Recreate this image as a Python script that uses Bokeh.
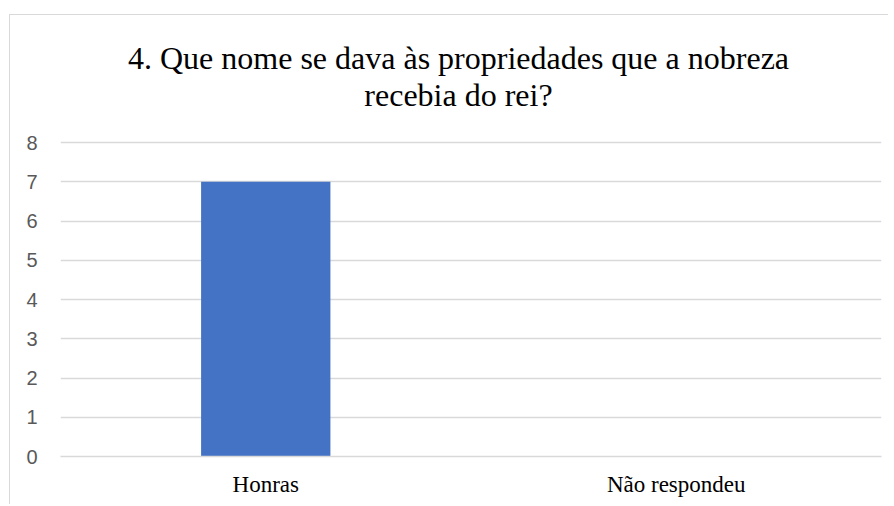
from bokeh.plotting import figure
from bokeh.models import Range1d, Label, ColumnDataSource
from bokeh.embed import file_html
from bokeh.resources import INLINE

categories = ["Honras", "Não respondeu"]
values = [7, 0]
title_lines = ["4. Que nome se dava às propriedades que a nobreza", "recebia do rei?"]
y_ticks = [0, 1, 2, 3, 4, 5, 6, 7, 8]

# plot frame spans the title area too; grid/ticks only 0..8
W, H = 879, 490
frame_h = 441          # px from canvas top to the zero line
y_max = 8 * frame_h / 314.0

p = figure(x_range=categories, y_range=Range1d(0, y_max), width=W, height=H,
           output_backend="svg", toolbar_location=None,
           min_border_left=50, min_border_right=8, min_border_top=0, min_border_bottom=49)
p.margin = (14, 0, 0, 9)
p.styles = {"border-top": "1px solid #d9d9d9", "border-left": "1px solid #d9d9d9"}

src = ColumnDataSource(dict(x=categories, top=values))
p.vbar(x="x", top="top", width=0.315, source=src, fill_color="#4472C4", line_color=None)

p.outline_line_color = None
p.background_fill_color = "white"
p.border_fill_color = "white"
p.xgrid.grid_line_color = None
p.ygrid.grid_line_color = "#d9d9d9"
p.ygrid.grid_line_width = 1.3
p.ygrid.ticker = y_ticks
p.yaxis.ticker = y_ticks
p.yaxis.axis_line_color = None
p.yaxis.major_tick_line_color = None
p.yaxis.minor_tick_line_color = None
p.yaxis.major_label_text_font = "Liberation Sans"
p.yaxis.major_label_text_font_size = "20px"
p.yaxis.major_label_text_color = "#595959"
p.yaxis.major_label_standoff = 17
p.xaxis.axis_line_color = "#d9d9d9"
p.xaxis.axis_line_width = 1.3
p.xaxis.major_tick_line_color = None
p.xaxis.major_label_text_font = "Liberation Serif"
p.xaxis.major_label_text_font_size = "23px"
p.xaxis.major_label_text_color = "#000000"
p.xaxis.major_label_standoff = 9

baselines = [399, 362]   # screen px above the zero line
for t, yb in zip(title_lines, baselines):
    lab = Label(x=398, y=yb, x_units="screen", y_units="screen", text=t,
                text_align="center", text_baseline="alphabetic",
                text_font="Liberation Serif", text_font_size="32px", text_color="#000000")
    p.add_layout(lab)

open("out.html", "w").write(file_html(p, INLINE))
